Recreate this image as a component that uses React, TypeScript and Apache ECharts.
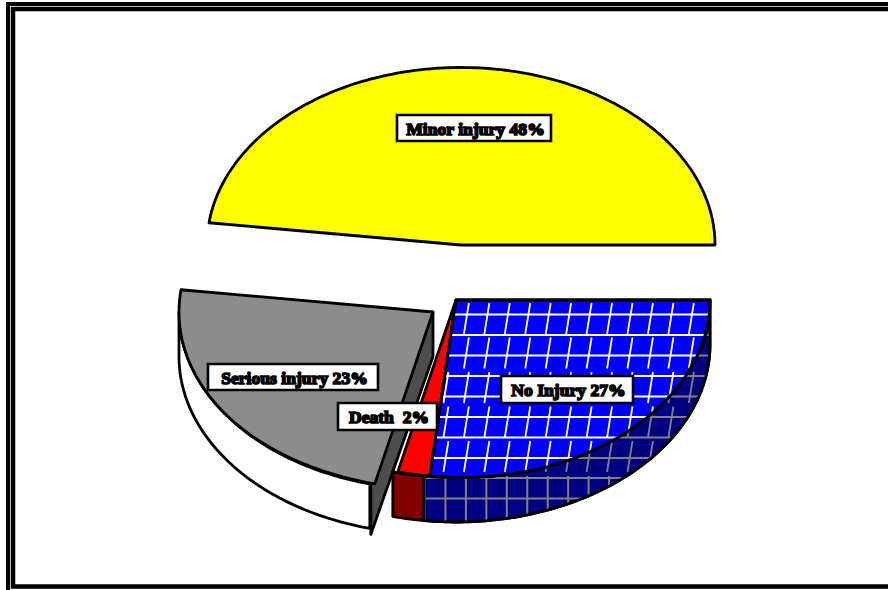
import React, { useEffect, useRef } from "react";
import * as echarts from "echarts";

const categories = ["Minor injury", "Serious injury", "Death", "No Injury"];
const values = [48, 23, 2, 27];
const labelGaps = [" ", " ", "  ", " "];
const topColors = ["#ffff00", "#8c8c8c", "#ff0000", "#0000ff"];
const sideColors = ["none", "#ffffff", "#800000", "#000080"];
const wallColors = ["none", "#4d4d4d", "none", "none"];
const centerX = [461, 433, 456, 456];
const centerY = [245, 312, 300, 300];
const labelBoxes = [
  [397, 115, 154, 26],
  [208, 364, 170, 26],
  [338, 403, 99, 27],
  [501, 376, 132, 27],
];
const drawOrder = [0, 1, 2, 3];
const hatchIndex = 3;
const hatchRows = [314.5, 335, 355.5, 376, 396.5, 417, 437.5, 458, 478, 498.5];
const hatchBlocks = [303, 337.5, 372, 406.5, 441];
const RX = 254;
const RY = 177.5;
const DEPTH = 44.5;
const FRONT_SHIFT = 6;
const INK = "#000000";
const STROKE = 2.8;

type P = [number, number];
const fractionsBefore = values.map((_, i) =>
  values.slice(0, i).reduce((a, b) => a + b, 0)
);
const total = values.reduce((a, b) => a + b, 0);

const pt = (cx: number, cy: number, deg: number): P => {
  const r = (deg * Math.PI) / 180;
  return [cx + RX * Math.cos(r), cy - RY * Math.sin(r)];
};
const facePt = (cx: number, cy: number, deg: number): P => {
  const r = (deg * Math.PI) / 180;
  const s = Math.sin(r);
  const lean = s < 0 ? FRONT_SHIFT * Math.pow(-s, 6) : 0;
  return [cx + RX * Math.cos(r) + lean, cy - RY * s];
};
const arcOf = (fn: typeof pt, cx: number, cy: number, a0: number, a1: number): P[] => {
  const out: P[] = [];
  const n = Math.max(2, Math.ceil(Math.abs(a1 - a0)));
  for (let i = 0; i <= n; i++) out.push(fn(cx, cy, a0 + ((a1 - a0) * i) / n));
  return out;
};
const segment = (x1: number, y1: number, x2: number, y2: number, color: string, w: number) => ({
  type: "line",
  silent: true,
  shape: { x1, y1, x2, y2 },
  style: { stroke: color, lineWidth: w, fill: "none" },
});
const hatchLines = (color: string, rimStraight: boolean) => {
  const lines: any[] = [];
  hatchRows.forEach((y) => lines.push(segment(420, y, 720, y, color, 2.2)));
  for (let k = 0; k < 15; k++) {
    const x = 428 + 20.45 * k;
    hatchBlocks.forEach((top) => {
      lines.push(segment(x, top, x - 5, top + 31, color, 1.8));
    });
    if (rimStraight) lines.push(segment(x - 3, 476, x - 3, 530, color, 2));
  }
  return lines;
};

const renderSlice = (_: any, api: any) => {
  const i = drawOrder[api.value(0)];
  const a0 = (fractionsBefore[i] / total) * 360;
  const a1 = ((fractionsBefore[i] + values[i]) / total) * 360;
  const cx = centerX[i];
  const cy = centerY[i];
  const children: any[] = [];
  const topPts: P[] = [[cx, cy], ...arcOf(facePt, cx, cy, a0, a1)];
  const edge = { stroke: INK, lineWidth: STROKE, lineJoin: "round" };

  if (wallColors[i] !== "none") {
    const e = pt(cx, cy, a1);
    children.push({
      type: "polygon",
      shape: { points: [[cx, cy], [cx, cy + DEPTH], [e[0] + 1, e[1] + DEPTH + 6], [e[0] + 1, e[1]]] },
      style: { fill: wallColors[i], ...edge },
    });
  }
  if (sideColors[i] !== "none") {
    const rs = Math.max(a0, 180);
    const upper = arcOf(pt, cx, cy, rs, a1);
    const lower = arcOf(pt, cx, cy + DEPTH, a1, rs);
    const rimPts = [...upper, ...lower];
    children.push({
      type: "polygon",
      shape: { points: rimPts },
      style: { fill: sideColors[i], ...edge },
    });
    if (i === hatchIndex) {
      children.push({
        type: "group",
        clipPath: { type: "polygon", shape: { points: rimPts } },
        children: hatchLines("#808080", true),
      });
      children.push({ type: "polygon", shape: { points: rimPts }, style: { fill: "none", ...edge } });
    }
  }
  children.push({
    type: "polygon",
    shape: { points: topPts },
    style: { fill: topColors[i], ...edge },
  });
  if (i === hatchIndex) {
    children.push({
      type: "group",
      clipPath: { type: "polygon", shape: { points: topPts } },
      children: hatchLines("#ffffff", false),
    });
    children.push({ type: "polygon", shape: { points: topPts }, style: { fill: "none", ...edge } });
  }
  return { type: "group", children };
};

const renderLabel = (_: any, api: any) => {
  const i = api.value(0);
  const [x, y, w, h] = labelBoxes[i];
  return {
    type: "group",
    children: [
      {
        type: "rect",
        shape: { x, y, width: w, height: h },
        style: { fill: "#ffffff", stroke: INK, lineWidth: 2.6 },
      },
      {
        type: "text",
        style: {
          text: `${categories[i]}${labelGaps[i]}${values[i]}%`,
          x: x + w / 2 + 1.5,
          y: y + h / 2 + 0.5,
          align: "center",
          verticalAlign: "middle",
          textAlign: "center",
          textVerticalAlign: "middle",
          font: 'bold 17.6px "Liberation Serif"',
          fill: INK,
          stroke: INK,
          lineWidth: 1.6,
        },
      },
    ],
  };
};

export default function App() {
  const ref = useRef<HTMLDivElement>(null);
  useEffect(() => {
    document.body.style.margin = "0";
    const chart = echarts.init(ref.current!, null, { renderer: "svg" });
    const order = categories.map((_, i) => [i]);
    chart.setOption({
      animation: false,
      backgroundColor: "#ffffff",
      graphic: [
        { type: "rect", silent: true, shape: { x: 8, y: 4, width: 900, height: 620 }, style: { fill: "none", stroke: INK, lineWidth: 4 } },
        { type: "rect", silent: true, shape: { x: 13, y: 9, width: 900, height: 577.5 }, style: { fill: "none", stroke: INK, lineWidth: 4.5 } },
      ],
      series: [
        { type: "custom", coordinateSystem: "none", silent: true, z: 2, renderItem: renderSlice, data: order, clip: false },
        { type: "custom", coordinateSystem: "none", silent: true, z: 3, renderItem: renderLabel, data: order, clip: false },
      ],
    });
    return () => chart.dispose();
  }, []);
  return <div ref={ref} style={{ width: 888, height: 590 }} />;
}
